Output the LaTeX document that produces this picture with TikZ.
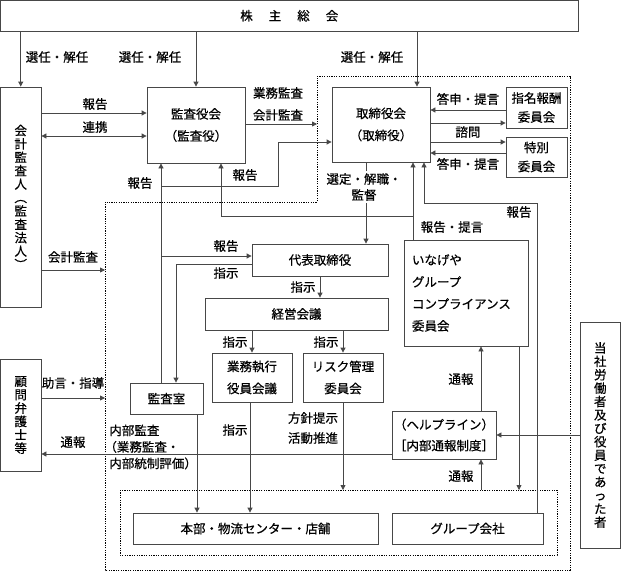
\documentclass[tikz,border=0pt]{standalone}
\usepackage{fontspec}
\setmainfont[FakeBold=0.6,AutoFakeBold=0.6]{Noto Sans CJK JP}
\usetikzlibrary{arrows.meta}
\begin{document}
\begin{tikzpicture}[x=1pt,y=-1pt,
  line width=0.8pt,
  box/.style={draw=black!72, rectangle, inner sep=0pt, align=center, font=\bfseries\fontsize{12.5}{22}\selectfont},
  lbl/.style={inner sep=0pt, align=center, font=\bfseries\fontsize{12.5}{16}\selectfont},
  arr/.style={draw=black!72, -{Triangle[length=5pt,width=5pt]}},
  arrb/.style={draw=black!72, {Triangle[length=5pt,width=5pt]}-{Triangle[length=5pt,width=5pt]}},
  ln/.style={draw=black!72},
  dots/.style={draw=black, line width=1pt, dash pattern=on 1.2pt off 1.2pt},
  vt/.style={inner sep=0pt, align=center, font=\bfseries\fontsize{12.5}{13.4}\selectfont}
]
\useasboundingbox (0,0) rectangle (621,573);

% dotted regions
\coordinate (d1) at (317,76);
\coordinate (d2) at (570,76);
\coordinate (d3) at (570,570);
\coordinate (d4) at (105,570);
\coordinate (d5) at (105,202);
\coordinate (d6) at (317,202);
\draw[dots] (d1) -- (d2) -- (d3) -- (d4) -- (d5) -- (d6) -- cycle;
\coordinate (e1) at (120,490);
\coordinate (e2) at (557,555);
\draw[dots] (e1) rectangle (e2);

% boxes
\node[box, minimum width=577.5, minimum height=30.5] (soukai) at (289.25,15.75) {株\hspace{16pt}主\hspace{16pt}総\hspace{16pt}会};
\node[box, minimum width=40.5, minimum height=220] (kaikei) at (20.75,197) {};
\node[vt] (kaikeit) at (kaikei) {会\\計\\監\\査\\人\\︵\\監\\査\\法\\人\\︶};
\node[box, minimum width=98, minimum height=76] (kansayaku) at (196,125) {監査役会\\（監査役）};
\node[box, minimum width=98, minimum height=75] (torishimari) at (381,124.5) {取締役会\\（取締役）};
\node[box, minimum width=61, minimum height=41, font=\bfseries\fontsize{12.5}{19}\selectfont] (shimei) at (536.5,107.5) {指名報酬\\委員会};
\node[box, minimum width=61, minimum height=40, font=\bfseries\fontsize{12.5}{19}\selectfont] (tokubetsu) at (536.5,157) {特別\\委員会};
\node[box, minimum width=136, minimum height=32] (daihyo) at (320,260) {代表取締役};
\node[box, minimum width=183, minimum height=32] (keiei) at (296.5,314) {経営会議};
\node[box, minimum width=80, minimum height=49] (gyomu) at (252,377.5) {業務執行\\役員会議};
\node[box, minimum width=80, minimum height=49] (risk) at (343,377.5) {リスク管理\\委員会};
\node[box, minimum width=73, minimum height=31] (kansashitsu) at (166.5,398.5) {監査室};
\node[box, minimum width=124, minimum height=106, text width=108pt, align=left] (inageya) at (466,293) {いなげや\\グループ\\コンプライアンス\\委員会};
\node[box, minimum width=104, minimum height=48, font=\bfseries\fontsize{12.5}{21}\selectfont] (helpline) at (444,435) {（ヘルプライン）\\［内部通報制度］};
\node[box, minimum width=245, minimum height=31] (honbu) at (255.5,528.5) {本部・物流センター・店舗};
\node[box, minimum width=151, minimum height=31] (group) at (467.5,528.5) {グループ会社};
\node[box, minimum width=40.5, minimum height=112] (komon) at (20.75,415) {};
\node[vt] (komont) at (komon) {顧\\問\\弁\\護\\士\\等};
\node[box, minimum width=40.5, minimum height=226] (tosha) at (600.25,435) {};
\node[vt] (toshat) at (tosha) {当\\社\\労\\働\\者\\及\\び\\役\\員\\で\\あ\\っ\\た\\者};

% top arrows
\draw[arr] (soukai.south -| kaikei.north) -- (kaikei.north);
\draw[arr] (soukai.south -| kansayaku.north) -- (kansayaku.north);
\draw[arr] (417,0 |- soukai.south) -- (417,0 |- torishimari.north);
\node[lbl] (l1) at (57,57) {選任・解任};
\node[lbl] (l2) at (150,57) {選任・解任};
\node[lbl] (l3) at (372,57) {選任・解任};

% auditor <-> board of auditors
\draw[arr] (kaikei.east |- 0,113) -- (kansayaku.west |- 0,113);
\draw[arrb] (kaikei.east |- 0,136) -- (kansayaku.west |- 0,136);
\node[lbl] (l4) at (95,104) {報告};
\node[lbl] (l5) at (95,127) {連携};
\draw[arr] (kansayaku.east |- 0,124) -- (d1 |- 0,124);
\node[lbl, font=\bfseries\fontsize{12.5}{22}\selectfont] (l6) at (278,104) {業務監査\\会計監査};

% committees
\draw[arr] (shimei.west |- 0,110) -- (torishimari.east |- 0,110);
\draw[arr] (torishimari.east |- 0,123) -- (shimei.west |- 0,123);
\draw[arr] (torishimari.east |- 0,142) -- (tokubetsu.west |- 0,142);
\draw[arr] (tokubetsu.west |- 0,153) -- (torishimari.east |- 0,153);
\node[lbl] (l7) at (468,99) {答申・提言};
\node[lbl] (l8) at (468,132) {諮問};
\node[lbl] (l9) at (468,164) {答申・提言};

% audit office reporting
\coordinate (r1) at (161,186);
\coordinate (r2) at (278,186);
\coordinate (r3) at (278,142);
\coordinate (r4) at (161,256);
\draw[arr] (161,0 |- kansashitsu.north) -- (161,0 |- kansayaku.south);
\draw[arr] (r1) -- (r2) -- (r3) -- (torishimari.west |- r3);
\draw[arr] (r4) -- (daihyo.west |- r4);
\node[lbl] (l10) at (140,183) {報告};
\node[lbl] (l11) at (226,246) {報告};
\coordinate (s1) at (176,264);
\draw[arr] (daihyo.west |- s1) -- (s1) -- (s1 |- kansashitsu.north);
\node[lbl] (l12) at (226,273) {指示};

% board -> representative director
\draw[arr] (366,0 |- torishimari.south) -- (366,0 |- daihyo.north);
\node[lbl, fill=white, inner ysep=2pt] (l13) at (364,187) {選定・解職・\\監督};

% compliance reporting
\coordinate (c1) at (413,216);
\coordinate (c2) at (221,216);
\draw[arr] (413,0 |- inageya.north) -- (413,0 |- torishimari.south);
\draw[arr] (c1) -- (c2) -- (c2 |- kansayaku.south);
\node[lbl] (l14) at (452,227) {報告・提言};
\node[lbl] (l15) at (245,175) {報告};
\coordinate (g1) at (537,203);
\coordinate (g2) at (424,203);
\draw[arr] (g1 |- group.north) -- (g1) -- (g2) -- (g2 |- torishimari.south);
\node[lbl] (l16) at (519,212) {報告};

% instructions down
\draw[arr] (320,0 |- daihyo.south) -- (320,0 |- keiei.north);
\node[lbl] (l17) at (303,287) {指示};
\draw[arr] (keiei.south -| gyomu.north) -- (gyomu.north);
\node[lbl] (l18) at (235,342) {指示};
\draw[arr] (keiei.south -| risk.north) -- (risk.north);
\node[lbl] (l19) at (326,342) {指示};

\draw[arr] (197,0 |- kansashitsu.south) -- (197,0 |- honbu.north);
\node[lbl, anchor=west, align=left, font=\bfseries\fontsize{12.5}{16.5}\selectfont] (l20) at (109,447) {内部監査\\\hspace*{-5pt}（業務監査・\\内部統制評価）};
\draw[arr] (250,0 |- gyomu.south) -- (250,0 |- honbu.north);
\node[lbl] (l21) at (235,430) {指示};
\draw[arr] (risk.south) -- (risk.south |- e1);
\node[lbl, font=\bfseries\fontsize{12.5}{20}\selectfont] (l22) at (313,428) {方針提示\\活動推進};

% external
\draw[arr] (kaikei.east |- 0,270) -- (d4 |- 0,270);
\node[lbl] (l23) at (73,257) {会計監査};
\draw[arr] (komon.east |- 0,398) -- (d4 |- 0,398);
\node[lbl] (l24) at (73,383) {助言・指導};
\draw[arr] (helpline.west |- 0,454) -- (komon.east |- 0,454);
\node[lbl] (l25) at (73,442) {通報};

% helpline
\draw[arr] (481,0 |- helpline.north) -- (481,0 |- inageya.south);
\node[lbl] (l26) at (461,379) {通報};
\draw[arr] (481,0 |- e1) -- (481,0 |- helpline.south);
\node[lbl] (l27) at (461,476) {通報};
\draw[arr] (tosha.west |- helpline.east) -- (helpline.east);
\draw[arr] (519,0 |- inageya.south) -- (519,0 |- e1);
\end{tikzpicture}
\end{document}
